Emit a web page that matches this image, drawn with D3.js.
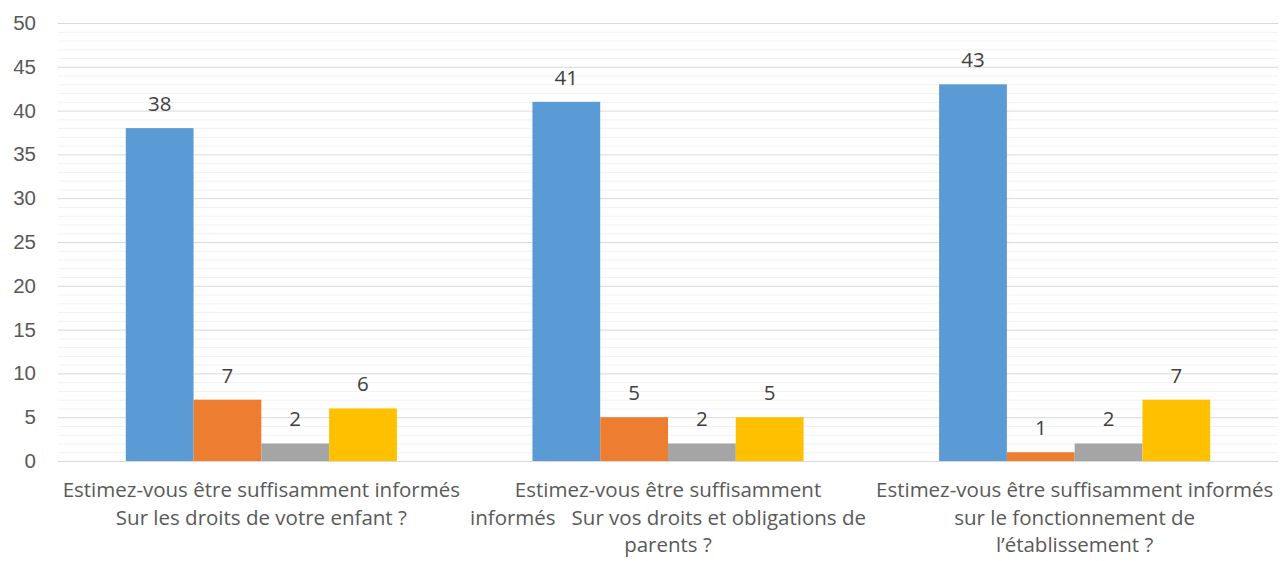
<!DOCTYPE html>
<html>
<head>
<meta charset="utf-8">
<script src="https://cdn.jsdelivr.net/npm/d3@7"></script>
<style>
  html, body { margin: 0; padding: 0; background: #fff; }
  svg { display: block; font-family: 'Open Sans', 'Noto Sans', sans-serif; }
</style>
</head>
<body>
<svg id="chart" width="1284" height="561"></svg>
<script>
// categories, each one is a list of wrapped lines as in the original
const categories = [
  ['Estimez-vous être suffisamment informés', 'Sur les droits de votre enfant ?'],
  ['Estimez-vous être suffisamment', 'informés   Sur vos droits et obligations de', 'parents ?'],
  ['Estimez-vous être suffisamment informés', 'sur le fonctionnement de', 'l\u2019établissement ?']
]
const seriesKeys = ['s1', 's2', 's3', 's4']
const seriesColors = ['#5B9BD5', '#ED7D31', '#A5A5A5', '#FFC000']
const s1 = [38, 41, 43]
const s2 = [7, 5, 1]
const s3 = [2, 2, 2]
const s4 = [6, 5, 7]
const yTicks = [0, 5, 10, 15, 20, 25, 30, 35, 40, 45, 50]

document.addEventListener('DOMContentLoaded', function () {
  drawBarChart()
})

function drawBarChart() {
  const values = [s1, s2, s3, s4]
  const margin = { top: 23, right: 6, bottom: 100, left: 58 }
  const svg = d3.select('#chart')
  const width = 1284 - margin.left - margin.right
  const height = 561 - margin.top - margin.bottom
  const fs = 20.5

  const g = svg.append('g').attr('transform', `translate(${margin.left},${margin.top})`)

  const y = d3.scaleLinear().domain([0, 50]).range([height, 0])
  const x0 = d3.scaleBand().domain(d3.range(categories.length)).range([0, width])
  // gap width ~200% of a bar -> group takes 4/6 of the band
  const groupW = x0.bandwidth() * 4 / 6
  const x1 = d3.scaleBand().domain(seriesKeys).range([0, groupW])

  // minor gridlines every unit
  g.append('g')
    .selectAll('line')
    .data(d3.range(1, 50).filter(v => v % 5 !== 0))
    .join('line')
    .attr('x1', 0).attr('x2', width)
    .attr('y1', d => y(d) + 0.5).attr('y2', d => y(d) + 0.5)
    .attr('stroke', '#f2f2f2').attr('stroke-width', 1)

  // major gridlines
  g.append('g')
    .selectAll('line')
    .data(yTicks)
    .join('line')
    .attr('x1', 0).attr('x2', width)
    .attr('y1', d => y(d) + 0.5).attr('y2', d => y(d) + 0.5)
    .attr('stroke', '#d9d9d9').attr('stroke-width', 1)

  // y axis labels
  const yAxis = g.append('g').call(d3.axisLeft(y).tickValues(yTicks).tickSize(0).tickPadding(22))
  yAxis.select('.domain').remove()
  yAxis.selectAll('text').attr('font-size', fs).attr('fill', '#595959').attr('font-family', null)

  // bars
  const groups = g.append('g')
    .selectAll('g')
    .data(categories.map((c, i) => i))
    .join('g')
    .attr('transform', i => `translate(${x0(i) + (x0.bandwidth() - groupW) / 2},0)`)

  groups.selectAll('rect')
    .data(i => seriesKeys.map((k, j) => ({ key: k, value: values[j][i], color: seriesColors[j] })))
    .join('rect')
    .attr('x', d => x1(d.key))
    .attr('width', x1.bandwidth())
    .attr('y', d => y(d.value))
    .attr('height', d => height - y(d.value))
    .attr('fill', d => d.color)

  groups.selectAll('text')
    .data(i => seriesKeys.map((k, j) => ({ key: k, value: values[j][i] })))
    .join('text')
    .attr('x', d => x1(d.key) + x1.bandwidth() / 2)
    .attr('y', d => y(d.value) - 17)
    .attr('text-anchor', 'middle')
    .attr('font-size', fs)
    .attr('fill', '#404040')
    .text(d => d.value)

  // baseline
  g.append('line')
    .attr('x1', 0).attr('x2', width)
    .attr('y1', height + 0.5).attr('y2', height + 0.5)
    .attr('stroke', '#d9d9d9')

  // category labels
  const labels = g.append('g')
    .selectAll('text')
    .data(categories)
    .join('text')
    .attr('text-anchor', 'middle')
    .attr('font-size', fs)
    .attr('fill', '#595959')
    .attr('xml:space', 'preserve')
    .style('white-space', 'pre')
  labels.each(function (lines, i) {
    d3.select(this).selectAll('tspan')
      .data(lines)
      .join('tspan')
      .attr('x', x0(i) + x0.bandwidth() / 2)
      .attr('y', (d, k) => height + 36 + k * 27.5)
      .text(d => d)
  })
}
</script>
</body>
</html>
